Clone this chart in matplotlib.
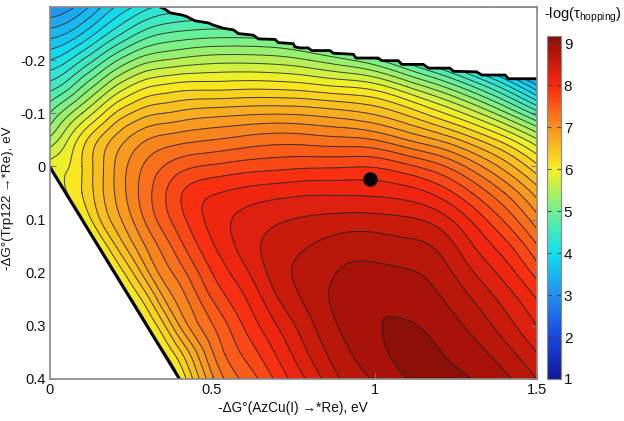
import numpy as np
import matplotlib
matplotlib.use("Agg")
import matplotlib.pyplot as plt
import matplotlib.tri as mtri
from matplotlib.colors import LinearSegmentedColormap, Normalize
from matplotlib.cm import ScalarMappable

plt.rcParams["font.family"] = ["Liberation Sans", "DejaVu Sans"]
plt.rcParams["mathtext.fontset"] = "custom"
plt.rcParams["mathtext.rm"] = "Liberation Sans"
plt.rcParams["mathtext.it"] = "Liberation Sans"

W, H = 624, 421

# grid
x_vals = [0, .05, .1, .15, .2, .25, .3, .35, .4, .5, .6, .7, .8, .9, 1, 1.1, 1.2, 1.3, 1.4, 1.5]
y_vals = [-.3, -.25, -.2, -.15, -.1, -.05, 0, .05, .1, .15, .2, .25, .3, .35, .4]

row_m30 = [3.0, 3.1, 3.3, 3.55, 3.8, 3.98, 4.15, 4.25, 4.3, 4.35, 4.3, 4.2, 4.05, 3.85, 3.6, 3.25, 2.85, 2.4, 1.9, 1.4]
row_m25 = [3.5, 3.6, 3.8, 4.05, 4.3, 4.52, 4.7, 4.8, 4.85, 4.9, 4.9, 4.85, 4.7, 4.5, 4.3, 3.95, 3.5, 3.05, 2.5, 1.95]
row_m20 = [4.0, 4.15, 4.4, 4.67, 4.95, 5.17, 5.33, 5.4, 5.45, 5.52, 5.53, 5.5, 5.4, 5.25, 5.05, 4.7, 4.3, 3.85, 3.3, 2.7]
row_m15 = [4.5, 4.7, 5.0, 5.3, 5.6, 5.82, 5.98, 6.05, 6.1, 6.12, 6.14, 6.13, 6.08, 6.0, 5.9, 5.6, 5.25, 4.82, 4.3, 3.65]
row_m10 = [5.0, 5.3, 5.6, 5.9, 6.2, 6.4, 6.54, 6.6, 6.65, 6.72, 6.76, 6.78, 6.75, 6.68, 6.57, 6.35, 6.05, 5.7, 5.25, 4.7]
row_m05 = [5.45, 5.75, 6.1, 6.4, 6.65, 6.85, 7.0, 7.08, 7.13, 7.2, 7.27, 7.32, 7.3, 7.26, 7.2, 7.0, 6.78, 6.47, 6.1, 5.63]
row_p00 = [5.85, 5.97, 6.2, 6.5, 6.8, 7.05, 7.25, 7.4, 7.52, 7.63, 7.7, 7.74, 7.77, 7.78, 7.78, 7.65, 7.45, 7.12, 6.72, 6.25]
row_p05 = [5.5, 5.97, 6.2, 6.5, 6.8, 7.08, 7.33, 7.56, 7.77, 7.98, 8.07, 8.13, 8.17, 8.17, 8.16, 8.1, 7.93, 7.6, 7.2, 6.72]
row_p10 = [5.0, 5.5, 5.97, 6.36, 6.68, 6.97, 7.25, 7.5, 7.72, 8.07, 8.26, 8.37, 8.43, 8.47, 8.47, 8.43, 8.3, 7.97, 7.57, 7.08]
row_p15 = [4.5, 5.0, 5.5, 5.97, 6.37, 6.72, 7.03, 7.28, 7.53, 7.97, 8.28, 8.49, 8.6, 8.7, 8.71, 8.66, 8.55, 8.22, 7.88, 7.42]
row_p20 = [4.0, 4.5, 5.0, 5.5, 5.97, 6.35, 6.75, 7.08, 7.3, 7.8, 8.15, 8.5, 8.68, 8.82, 8.85, 8.82, 8.7, 8.42, 8.12, 7.72]
row_p25 = [3.5, 4.0, 4.5, 5.0, 5.5, 5.97, 6.33, 6.77, 7.08, 7.6, 7.98, 8.38, 8.66, 8.88, 8.96, 8.93, 8.82, 8.6, 8.33, 8.0]
row_p30 = [3.0, 3.5, 4.0, 4.5, 5.0, 5.5, 5.97, 6.35, 6.8, 7.38, 7.82, 8.2, 8.55, 8.83, 8.98, 9.02, 8.92, 8.75, 8.5, 8.2]
row_p35 = [2.5, 3.0, 3.5, 4.0, 4.5, 5.0, 5.5, 5.97, 6.35, 7.18, 7.65, 8.03, 8.42, 8.74, 8.93, 9.07, 9.01, 8.88, 8.68, 8.4]
row_p40 = [2.0, 2.5, 3.0, 3.5, 4.0, 4.5, 5.0, 5.5, 6.0, 6.95, 7.45, 7.85, 8.25, 8.62, 8.82, 9.0, 9.07, 9.0, 8.85, 8.6]

# stepped upper limit of the valid region
upper_x = [.34, .355, .371, .407, .422, .448, .489, .504, .535, .566, .581, .627, .643, .694,
           .704, .75, .755, .771, .796, .807, .863, .873, .935, .943, 1.012, 1.022, 1.073,
           1.084, 1.15, 1.166, 1.232, 1.243, 1.314, 1.33, 1.402, 1.412, 1.5]
upper_y = [-.30, -.296, -.289, -.285, -.282, -.274, -.27, -.266, -.26, -.257, -.25, -.247, -.24, -.239,
           -.233, -.231, -.225, -.223, -.223, -.218, -.218, -.213, -.211, -.204, -.204, -.199, -.199,
           -.192, -.192, -.185, -.185, -.179, -.178, -.172, -.172, -.165, -.165]
# lower limit
lower_x = [0, .4]
lower_y = [0, .4]

dot_x = [.985]
dot_y = [.023]

bar_ticks = [1, 2, 3, 4, 5, 6, 7, 8, 9]
x_ticks = [0, .5, 1, 1.5]
x_labels = ["0", "0.5", "1", "1.5"]
y_ticks = [-.2, -.1, 0, .1, .2, .3, .4]
y_labels = ["-0.2", "-0.1", "0", "0.1", "0.2", "0.3", "0.4"]

z = np.array([row_m30, row_m25, row_m20, row_m15, row_m10, row_m05, row_p00, row_p05,
              row_p10, row_p15, row_p20, row_p25, row_p30, row_p35, row_p40])

# colours taken from the colorbar
vmin, vmax = 1, 9.17
bar_colors = ["#10189a", "#1848e0", "#2090f0", "#10e0f0", "#70f090", "#f8f020",
              "#f89020", "#f82810", "#a01008", "#801008"]
bar_values = [1, 2, 3, 4, 5, 6, 7, 8, 9, 9.17]
cmap = LinearSegmentedColormap.from_list(
    "bar", [((v - vmin) / (vmax - vmin), c) for v, c in zip(bar_values, bar_colors)])
norm = Normalize(vmin, vmax)
levels = np.arange(1, 9.3, .2)

fig = plt.figure(figsize=(W / 100, H / 100), dpi=100)
ax = fig.add_axes([49.5 / W, 1 - 379 / H, (537 - 49.5) / W, (379 - 7) / H])

# smooth contours over the read grid, same diagonal in every cell
gx, gy = np.meshgrid(x_vals, y_vals)
nr, nc = z.shape
triangles = []
for i in range(nr - 1):
    for j in range(nc - 1):
        a = i * nc + j
        triangles.append([a, a + 1, a + nc + 1])
        triangles.append([a, a + nc + 1, a + nc])
tri = mtri.Triangulation(gx.ravel(), gy.ravel(), triangles)
interp = mtri.CubicTriInterpolator(tri, z.ravel(), kind="min_E")
tri2, z2 = mtri.UniformTriRefiner(tri).refine_field(z.ravel(), triinterpolator=interp, subdiv=3)

ax.tricontourf(tri2, z2, levels=levels, cmap=cmap, norm=norm, extend="both")
ax.tricontour(tri2, z2, levels=levels, colors="#222222", linewidths=.7, alpha=.85)

ax.fill_between(upper_x, upper_y, -.3, color="white", lw=0, zorder=3)
ax.fill_between(lower_x, lower_y, .4, color="white", lw=0, zorder=3)
ax.plot(upper_x, upper_y, color="black", lw=2, zorder=4, solid_capstyle="butt")
ax.plot(lower_x, lower_y, color="black", lw=2.2, zorder=4, solid_capstyle="butt")
ax.scatter(dot_x, dot_y, s=88, color="black", zorder=5)

ax.set_xlim(0, 1.5)
ax.set_ylim(.4, -.3)
ax.set_xticks(x_ticks, x_labels)
ax.set_yticks(y_ticks, y_labels)
ax.tick_params(direction="in", length=4, width=.8, color="#777777", top=True, right=True,
               labelsize=10.5, labelcolor="#111111", pad=3)
for s in ax.spines.values():
    s.set_color("#888888")
    s.set_linewidth(1.2)
    s.set_zorder(6)

ax.set_xlabel("-ΔG°(AzCu(I) →*Re), eV", fontsize=9.8, color="#111111", labelpad=3)
ax.set_ylabel("-ΔG°(Trp122 →*Re), eV", fontsize=9.6, color="#111111")
ax.yaxis.set_label_coords(-.072, .485)

cax = fig.add_axes([547 / W, 1 - 379 / H, 14 / W, (379 - 36) / H])
cb = fig.colorbar(ScalarMappable(norm=norm, cmap=cmap), cax=cax, ticks=bar_ticks)
cb.ax.tick_params(direction="in", length=3, width=.8, color="#444444", labelsize=11,
                  labelcolor="#111111", pad=2, left=True, right=True)
cb.outline.set_edgecolor("#888888")
cb.outline.set_linewidth(.8)

fig.text(544 / W, 1 - 15 / H, r"-log($\tau_{\mathrm{hopping}}$)", fontsize=10.5, color="#111111",
         va="center", ha="left")

fig.savefig("out.png", dpi=100)
